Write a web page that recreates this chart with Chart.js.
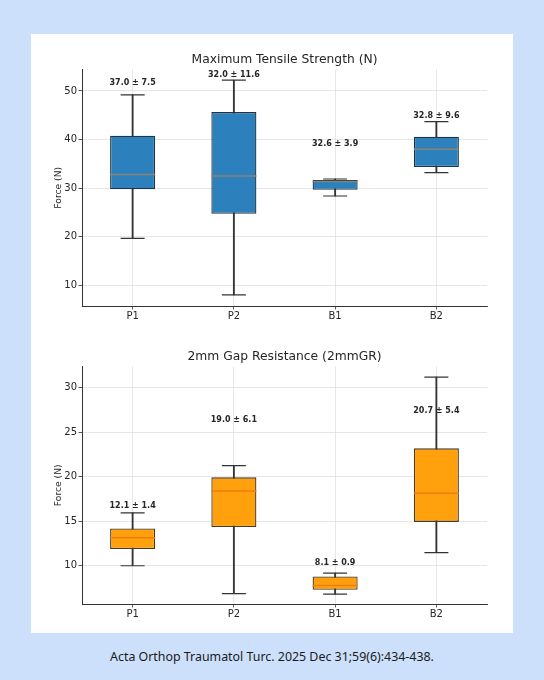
<!DOCTYPE html>
<html>
<head>
<meta charset="utf-8">
<script src="https://cdn.jsdelivr.net/npm/chart.js@4.4.1/dist/chart.umd.min.js"></script>
<style>
  html, body { margin: 0; padding: 0; }
  body { width: 544px; height: 680px; background: #cce0fb; position: relative; overflow: hidden; }
  #panel { position: absolute; left: 31px; top: 34px; width: 482px; height: 599px; background: #fff; }
  .wrap { position: absolute; left: 0; width: 482px; }
  #w1 { top: 6px; height: 290px; }
  #w2 { top: 301px; height: 295px; }
  #caption { position: absolute; left: 0; width: 544px; top: 648px; text-align: center;
    font-family: "Noto Sans", sans-serif; font-size: 12.4px; color: #1a1a1a; }
</style>
</head>
<body>
<div id="panel">
  <div class="wrap" id="w1"><canvas id="mtsChart"></canvas></div>
  <div class="wrap" id="w2"><canvas id="gapChart"></canvas></div>
</div>
<div id="caption">Acta Orthop Traumatol Turc. 2025 Dec 31;59(6):434-438.</div>
<script>
const groups = ["P1", "P2", "B1", "B2"];

// Maximum Tensile Strength (N)
const mtsMin = [19.7, 8.1, 28.4, 33.2];
const mtsQ1 = [29.8, 24.75, 29.7, 34.35];
const mtsMedian = [32.8, 32.5, 31.4, 38.0];
const mtsQ3 = [40.8, 45.65, 31.7, 40.6];
const mtsMax = [49.2, 52.2, 31.9, 43.7];
const mtsLabels = ["37.0 ± 7.5", "32.0 ± 11.6", "32.6 ± 3.9", "32.8 ± 9.6"];
const mtsLabelAt = [51.7, 53.3, 39.05, 44.9];
const mtsTicks = [10, 20, 30, 40, 50];

// 2mm Gap Resistance (2mmGR)
const gapMin = [10.0, 6.87, 6.8, 11.47];
const gapQ1 = [11.88, 14.36, 7.29, 14.93];
const gapMedian = [13.16, 18.4, 7.77, 18.14];
const gapQ3 = [14.18, 19.94, 8.79, 23.2];
const gapMax = [15.94, 21.25, 9.17, 31.2];
const gapLabels = ["12.1 ± 1.4", "19.0 ± 6.1", "8.1 ± 0.9", "20.7 ± 5.4"];
const gapLabelAt = [16.73, 26.4, 10.3, 27.4];
const gapTicks = [10, 15, 20, 25, 30];

const FONT = "DejaVu Sans";
const INK = "#333333";
const GRID = "#dcdcdc";

// title centred over the plot area (like matplotlib), plus the "mean ± sd" texts
const boxText = {
  id: "boxText",
  afterDatasetsDraw(chart, args, opts) {
    const { ctx, scales, chartArea } = chart;
    ctx.save();
    ctx.textAlign = "center";
    ctx.textBaseline = "middle";
    ctx.fillStyle = "#262626";
    ctx.font = "12.3px '" + FONT + "'";
    ctx.fillText(opts.title, (chartArea.left + chartArea.right) / 2, chartArea.top - opts.titleGap);
    ctx.font = "bold 8px '" + FONT + "'";
    opts.texts.forEach((t, i) => {
      ctx.fillText(t, scales.x.getPixelForValue(i), scales.y.getPixelForValue(opts.at[i]));
    });
    ctx.restore();
  }
};

function boxChart(id, cfg) {
  const ctx = document.getElementById(id).getContext("2d");
  return new Chart(ctx, {
    type: "bar",
    data: {
      labels: groups,
      datasets: [
        {
          label: "median",
          type: "line",
          data: cfg.median,
          showLine: false,
          pointStyle: "line",
          pointRadius: 22.5,
          pointHoverRadius: 22.5,
          pointBorderWidth: 1.5,
          borderColor: cfg.medianColor,
          order: 0,
        },
        {
          label: "box",
          data: groups.map((g, i) => [cfg.q1[i], cfg.q3[i]]),
          backgroundColor: cfg.boxColor,
          borderColor: cfg.edgeColor,
          borderWidth: 1.3,
          borderSkipped: false,
          barPercentage: 0.445,
          categoryPercentage: 1,
          grouped: false,
          order: 1,
        },
        {
          label: "caps",
          type: "line",
          data: cfg.max,
          showLine: false,
          pointStyle: "line",
          pointRadius: 12,
          pointHoverRadius: 12,
          pointBorderWidth: 1.2,
          borderColor: INK,
          order: 2,
        },
        {
          label: "capsLow",
          type: "line",
          data: cfg.min,
          showLine: false,
          pointStyle: "line",
          pointRadius: 12,
          pointHoverRadius: 12,
          pointBorderWidth: 1.2,
          borderColor: INK,
          order: 2,
        },
        {
          label: "whisker",
          data: groups.map((g, i) => [cfg.min[i], cfg.max[i]]),
          backgroundColor: INK,
          barThickness: 1.2,
          grouped: false,
          order: 3,
        },
      ],
    },
    options: {
      responsive: true,
      maintainAspectRatio: false,
      animation: false,
      events: [],
      layout: { padding: cfg.padding },
      plugins: {
        legend: { display: false },
        tooltip: { enabled: false },
        title: { display: false },
        boxText: { title: cfg.title, titleGap: 9.5, texts: cfg.labels, at: cfg.labelAt },
      },
      scales: {
        x: {
          offset: true,
          grid: {
            offset: false,
            color: GRID,
            borderDash: [1.5, 1.5],
            lineWidth: 0.7,
            drawTicks: true,
            tickLength: 3.5,
            tickColor: INK,
            tickBorderDash: [],
            tickWidth: 0.8,
          },
          border: { display: true, color: INK, width: 1 },
          ticks: { color: "#262626", font: { family: FONT, size: 10 }, padding: 1 },
          afterFit(scale) { scale.height = 20; },
        },
        y: {
          min: cfg.yMin,
          max: cfg.yMax,
          afterBuildTicks(scale) { scale.ticks = cfg.ticks.map(v => ({ value: v })); },
          grid: {
            color: GRID,
            borderDash: [1.5, 1.5],
            lineWidth: 0.7,
            drawTicks: true,
            tickLength: 3.5,
            tickColor: INK,
            tickBorderDash: [],
            tickWidth: 0.8,
          },
          border: { display: true, color: INK, width: 1 },
          ticks: { color: "#262626", font: { family: FONT, size: 10 }, padding: 1.5 },
          title: {
            display: true,
            text: "Force (N)",
            color: "#262626",
            font: { family: FONT, size: 9.2 },
            padding: { top: 0, bottom: 5 },
          },
          afterFit(scale) { scale.width = 28.5; },
        },
      },
    },
    plugins: [boxText],
  });
}

boxChart("mtsChart", {
  title: "Maximum Tensile Strength (N)",
  min: mtsMin, q1: mtsQ1, median: mtsMedian, q3: mtsQ3, max: mtsMax,
  labels: mtsLabels, labelAt: mtsLabelAt, ticks: mtsTicks,
  yMin: 5.8, yMax: 54.4,
  boxColor: "#2c80bc", edgeColor: "#1f3447", medianColor: "#8c8173",
  padding: { left: 22.5, right: 26, top: 29.5, bottom: 3 },
});

boxChart("gapChart", {
  title: "2mm Gap Resistance (2mmGR)",
  min: gapMin, q1: gapQ1, median: gapMedian, q3: gapQ3, max: gapMax,
  labels: gapLabels, labelAt: gapLabelAt, ticks: gapTicks,
  yMin: 5.7, yMax: 32.4,
  boxColor: "#ffa00c", edgeColor: "#4a3a22", medianColor: "#f07c10",
  padding: { left: 22.5, right: 26, top: 31.5, bottom: 6 },
});
</script>
</body>
</html>
